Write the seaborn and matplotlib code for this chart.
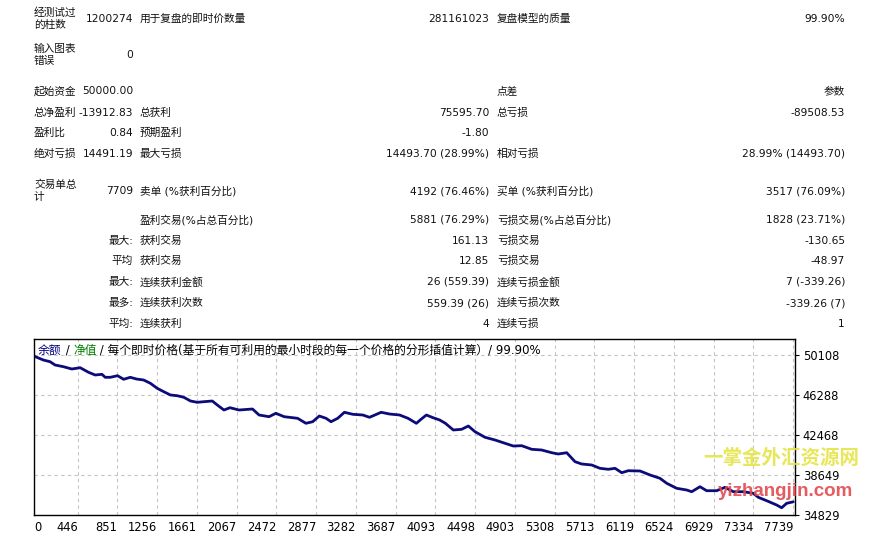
import matplotlib
matplotlib.use("Agg")
import matplotlib.pyplot as plt
import seaborn as sns

# balance curve
trades = [0, 95, 164, 215, 300, 386, 471, 556, 624, 693,
          726, 778, 852, 914, 982, 1044, 1118, 1187, 1256, 1323,
          1392, 1460, 1528, 1596, 1665, 1732, 1818, 1869, 1937, 1998,
          2090, 2228, 2295, 2397, 2466, 2551, 2688, 2773, 2842, 2909,
          2978, 3029, 3097, 3165, 3251, 3353, 3421, 3540, 3625, 3728,
          3814, 3899, 3950, 4001, 4069, 4137, 4195, 4276, 4361, 4429,
          4497, 4599, 4701, 4803, 4887, 4973, 5075, 5177, 5279, 5346,
          5432, 5517, 5585, 5687, 5771, 5856, 5925, 5993, 6060, 6180,
          6282, 6383, 6452, 6553, 6656, 6707, 6791, 6859, 6961, 7046,
          7131, 7233, 7335, 7386, 7471, 7573, 7624, 7675, 7742]
balance = [50000, 49630, 49467, 49153, 48990, 48771, 48895, 48456, 48198, 48264,
           47978, 47978, 48131, 47787, 47978, 47816, 47720, 47405, 46928, 46603,
           46288, 46221, 46068, 45715, 45591, 45648, 45715, 45333, 44855, 45075,
           44855, 44951, 44378, 44216, 44540, 44216, 44063, 43585, 43738, 44283,
           44063, 43738, 44063, 44636, 44445, 44378, 44158, 44636, 44473, 44378,
           44063, 43585, 43996, 44378, 44120, 43901, 43585, 42946, 43013, 43328,
           42783, 42249, 41991, 41676, 41418, 41447, 41103, 41036, 40778, 40654,
           40778, 39919, 39699, 39604, 39288, 39193, 39288, 38868, 39059, 39031,
           38649, 38333, 37856, 37379, 37216, 37054, 37531, 37149, 37149, 37474,
           37054, 37054, 36901, 36519, 36194, 35784, 35520, 35946, 36087]

xticks = [0, 446, 851, 1256, 1661, 2067, 2472, 2877, 3282, 3687,
          4093, 4498, 4903, 5308, 5713, 6119, 6524, 6929, 7334, 7739]
yticks = [34829, 38649, 42468, 46288, 50108]

# report table, one entry per row
col1_labels = ["经测试过\n的柱数", "输入图表\n错误", "起始资金", "总净盈利", "盈利比", "绝对亏损",
               "交易单总\n计", "", "", "", "", "", ""]
col1_values = ["1200274", "0", "50000.00", "-13912.83", "0.84", "14491.19",
               "7709", "", "最大:", "平均", "最大:", "最多:", "平均:"]
col2_labels = ["用于复盘的即时价数量", "", "", "总获利", "预期盈利", "最大亏损",
               "卖单 (%获利百分比)", "盈利交易(%占总百分比)", "获利交易", "获利交易",
               "连续获利金额", "连续获利次数", "连续获利"]
col2_values = ["281161023", "", "", "75595.70", "-1.80", "14493.70 (28.99%)",
               "4192 (76.46%)", "5881 (76.29%)", "161.13", "12.85",
               "26 (559.39)", "559.39 (26)", "4"]
col3_labels = ["复盘模型的质量", "", "点差", "总亏损", "", "相对亏损",
               "买单 (%获利百分比)", "亏损交易(%占总百分比)", "亏损交易", "亏损交易",
               "连续亏损金额", "连续亏损次数", "连续亏损"]
col3_values = ["99.90%", "", "参数", "-89508.53", "", "28.99% (14493.70)",
               "3517 (76.09%)", "1828 (23.71%)", "-130.65", "-48.97",
               "7 (-339.26)", "-339.26 (7)", "1"]

title_parts = ["余额", " / ", "净值", " / 每个即时价格(基于所有可利用的最小时段的每一个价格的分形插值计算）/ 99.90%"]
title_colors = ["#000080", "#000000", "#008000", "#000000"]

sns.set_style("white")
plt.rcParams['font.family'] = ['DejaVu Sans', 'Noto Sans CJK SC']

W, H = 876, 534
fig = plt.figure(figsize=(W / 100, H / 100), dpi=100)

# table rows (pixel rows of the report)
row_y = [19, 55, 91, 113, 133, 154, 191, 220, 241, 261, 282, 303, 324]
cols = [(34, col1_labels, 'left'), (133, col1_values, 'right'),
        (140, col2_labels, 'left'), (489, col2_values, 'right'),
        (497, col3_labels, 'left'), (845, col3_values, 'right')]
for x, texts, ha in cols:
    for y, s in zip(row_y, texts):
        if s:
            fig.text(x / W, 1 - y / H, s, ha=ha, va='center', fontsize=7.7,
                     linespacing=1.25, color='#111111')

# equity chart
ax = fig.add_axes([34 / W, 1 - 515 / H, (795 - 34) / W, (515 - 339) / H])
sns.lineplot(x=trades, y=balance, ax=ax, color='#0b0b7a', linewidth=2.0)
ax.set_xlim(0, 7760)
ax.set_ylim(34829, 51636)
ax.set_xticks(xticks)
ax.set_xticklabels([str(t) for t in xticks])
ax.set_yticks(yticks)
ax.set_yticklabels([str(t) for t in yticks])
ax.yaxis.tick_right()
ax.tick_params(axis='both', direction='out', length=3, width=0.8, colors='#000000',
               labelsize=8.3, pad=1.5)
ax.tick_params(axis='y', pad=2.5)
for i, lab in enumerate(ax.get_xticklabels()):
    lab.set_horizontalalignment('left' if i == 0 else 'right')
ax.grid(True, color='#c4c4c4', linestyle=(0, (3, 3)), linewidth=0.8)
for sp in ax.spines.values():
    sp.set_color('#000000')
    sp.set_linewidth(1.0)
ax.set_xlabel('')
ax.set_ylabel('')

# coloured chart caption, pieces placed one after another
prev = ax.text(4 / (795 - 34), 1 - 11 / (515 - 339), title_parts[0], transform=ax.transAxes,
               ha='left', va='center', fontsize=8.5, color=title_colors[0])
for s, c in zip(title_parts[1:], title_colors[1:]):
    prev = ax.annotate(s, xy=(1, 0), xycoords=prev, ha='left', va='bottom',
                       fontsize=8.5, color=c)

# watermark of the source site
fig.text(781 / W, 1 - 458 / H, "一掌金外汇资源网", ha='center', va='center',
         fontsize=14, fontweight='bold', color='#e4e23c', alpha=0.85,
         family=['Noto Sans CJK SC'])
fig.text(785 / W, 1 - 491 / H, "yizhangjin.com", ha='center', va='center',
         fontsize=13.5, fontweight='bold', color='#e24a4e', alpha=0.9,
         family=['Liberation Sans'])

fig.savefig('out.png', dpi=100)
